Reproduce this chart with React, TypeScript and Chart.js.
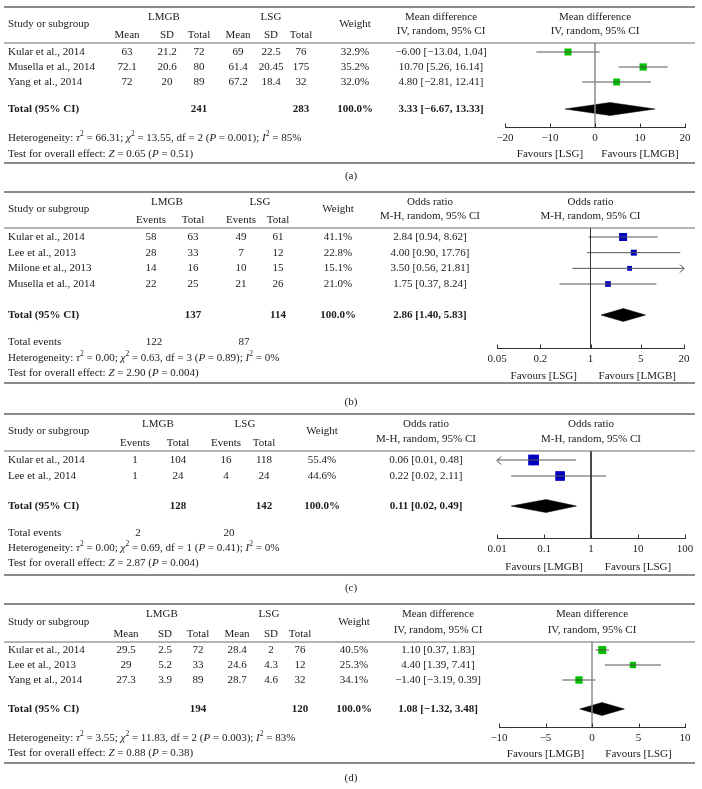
import React, { useEffect, useRef } from "react";
import { Chart, registerables } from "chart.js";
Chart.register(...registerables);

const SERIF = '"Liberation Serif", "Times New Roman", Times, serif';
const FS = 11;
const W = 702;
const H = 789;
const TEXT = "#1a1a1a";
const GREEN = "#00C000";
const BLUE = "#0000C0";

// ---------------- Panel (a): mean difference ----------------
const aStudies = ["Kular et al., 2014", "Musella et al., 2014", "Yang et al., 2014"];
const aLmgbMean = [63, 72.1, 72];
const aLmgbSD = [21.2, 20.6, 20];
const aLmgbTotal = [72, 80, 89];
const aLsgMean = [69, 61.4, 67.2];
const aLsgSD = [22.5, 20.45, 18.4];
const aLsgTotal = [76, 175, 32];
const aWeight = [32.9, 35.2, 32.0];
const aEst = [-6.0, 10.7, 4.8];
const aLo = [-13.04, 5.26, -2.81];
const aHi = [1.04, 16.14, 12.41];
const aPooled = [3.33, -6.67, 13.33];
const aTotals = [241, 283];
const aHet = "Heterogeneity: _τ_^2 = 66.31; _χ_^2 = 13.55, df = 2 (_P_ = 0.001); _I_^2 = 85%";
const aTest = "Test for overall effect: _Z_ = 0.65 (_P_ = 0.51)";
const aTicks = [-20, -10, 0, 10, 20];

// ---------------- Panel (b): odds ratio ----------------
const bStudies = ["Kular et al., 2014", "Lee et al., 2013", "Milone et al., 2013", "Musella et al., 2014"];
const bLmgbEvents = [58, 28, 14, 22];
const bLmgbTotal = [63, 33, 16, 25];
const bLsgEvents = [49, 7, 10, 21];
const bLsgTotal = [61, 12, 15, 26];
const bWeight = [41.1, 22.8, 15.1, 21.0];
const bEst = [2.84, 4.0, 3.5, 1.75];
const bLo = [0.94, 0.9, 0.56, 0.37];
const bHi = [8.62, 17.76, 21.81, 8.24];
const bPooled = [2.86, 1.4, 5.83];
const bTotals = [137, 114];
const bTotalEvents = [122, 87];
const bHet = "Heterogeneity: _τ_^2 = 0.00; _χ_^2 = 0.63, df = 3 (_P_ = 0.89); _I_^2 = 0%";
const bTest = "Test for overall effect: _Z_ = 2.90 (_P_ = 0.004)";
const bTicks = [0.05, 0.2, 1, 5, 20];

// ---------------- Panel (c): odds ratio ----------------
const cStudies = ["Kular et al., 2014", "Lee et al., 2014"];
const cLmgbEvents = [1, 1];
const cLmgbTotal = [104, 24];
const cLsgEvents = [16, 4];
const cLsgTotal = [118, 24];
const cWeight = [55.4, 44.6];
const cEst = [0.06, 0.22];
const cLo = [0.01, 0.02];
const cHi = [0.48, 2.11];
const cPooled = [0.11, 0.02, 0.49];
const cTotals = [128, 142];
const cTotalEvents = [2, 20];
const cHet = "Heterogeneity: _τ_^2 = 0.00; _χ_^2 = 0.69, df = 1 (_P_ = 0.41); _I_^2 = 0%";
const cTest = "Test for overall effect: _Z_ = 2.87 (_P_ = 0.004)";
const cTicks = [0.01, 0.1, 1, 10, 100];

// ---------------- Panel (d): mean difference ----------------
const dStudies = ["Kular et al., 2014", "Lee et al., 2013", "Yang et al., 2014"];
const dLmgbMean = [29.5, 29, 27.3];
const dLmgbSD = [2.5, 5.2, 3.9];
const dLmgbTotal = [72, 33, 89];
const dLsgMean = [28.4, 24.6, 28.7];
const dLsgSD = [2, 4.3, 4.6];
const dLsgTotal = [76, 12, 32];
const dWeight = [40.5, 25.3, 34.1];
const dEst = [1.1, 4.4, -1.4];
const dLo = [0.37, 1.39, -3.19];
const dHi = [1.83, 7.41, 0.39];
const dPooled = [1.08, -1.32, 3.48];
const dTotals = [194, 120];
const dHet = "Heterogeneity: _τ_^2 = 3.55; _χ_^2 = 11.83, df = 2 (_P_ = 0.003); _I_^2 = 83%";
const dTest = "Test for overall effect: _Z_ = 0.88 (_P_ = 0.38)";
const dTicks = [-10, -5, 0, 5, 10];

// ---------------- helpers ----------------
const minus = (s: string) => s.replace(/-/g, "−");
const fmtNum = (v: number) => minus(String(v));
const fmt2 = (v: number) => minus(v.toFixed(2));
const effText = (e: number, l: number, h: number) => `${fmt2(e)} [${fmt2(l)}, ${fmt2(h)}]`;

type Col = { head: string; x: number; vals: number[] };
type Group = { name: string; x: number; cols: Col[]; totalCol: number; total: number; eventsCol?: number; events?: number };

interface PanelCfg {
  label: string; labelY: number;
  ruleTop: number; headerLine: number; ruleBottom: number;
  rowY0: number; rowStep: number; totalY: number; axisY: number;
  plotL: number; plotR: number;
  log: boolean; xMin: number; xMax: number; ticks: number[];
  ref: number; refColor: string; refWidth: number;
  color: string; boxK: number;
  studies: string[]; groups: Group[];
  weight: number[]; weightX: number;
  est: number[]; lo: number[]; hi: number[]; pooled: number[];
  effX: number; effTitle: string[];
  het: string; test: string; hetY: number; testY: number; totEvY?: number;
  favL: string; favR: string; favY: number;
}

const panels: PanelCfg[] = [
  {
    label: "(a)", labelY: 176, ruleTop: 7, headerLine: 43, ruleBottom: 163,
    rowY0: 52, rowStep: 15, totalY: 109, axisY: 127, plotL: 505, plotR: 685,
    log: false, xMin: -20, xMax: 20, ticks: aTicks, ref: 0, refColor: "#8c8c8c", refWidth: 1.5,
    color: GREEN, boxK: 1.22, studies: aStudies,
    groups: [
      { name: "LMGB", x: 164, totalCol: 2, total: aTotals[0], cols: [
        { head: "Mean", x: 127, vals: aLmgbMean }, { head: "SD", x: 167, vals: aLmgbSD }, { head: "Total", x: 199, vals: aLmgbTotal }] },
      { name: "LSG", x: 271, totalCol: 2, total: aTotals[1], cols: [
        { head: "Mean", x: 238, vals: aLsgMean }, { head: "SD", x: 271, vals: aLsgSD }, { head: "Total", x: 301, vals: aLsgTotal }] },
    ],
    weight: aWeight, weightX: 355, est: aEst, lo: aLo, hi: aHi, pooled: aPooled,
    effX: 441, effTitle: ["Mean difference", "IV, random, 95% CI"],
    het: aHet, test: aTest, hetY: 138, testY: 154,
    favL: "Favours [LSG]", favR: "Favours [LMGB]", favY: 154,
  },
  {
    label: "(b)", labelY: 402, ruleTop: 192, headerLine: 228, ruleBottom: 383,
    rowY0: 237, rowStep: 15.67, totalY: 315, axisY: 348, plotL: 497, plotR: 684,
    log: true, xMin: 0.05, xMax: 20, ticks: bTicks, ref: 1, refColor: "#333", refWidth: 1,
    color: BLUE, boxK: 1.25, studies: bStudies,
    groups: [
      { name: "LMGB", x: 167, totalCol: 1, total: bTotals[0], eventsCol: 0, events: bTotalEvents[0], cols: [
        { head: "Events", x: 151, vals: bLmgbEvents }, { head: "Total", x: 193, vals: bLmgbTotal }] },
      { name: "LSG", x: 260, totalCol: 1, total: bTotals[1], eventsCol: 0, events: bTotalEvents[1], cols: [
        { head: "Events", x: 241, vals: bLsgEvents }, { head: "Total", x: 278, vals: bLsgTotal }] },
    ],
    weight: bWeight, weightX: 338, est: bEst, lo: bLo, hi: bHi, pooled: bPooled,
    effX: 430, effTitle: ["Odds ratio", "M-H, random, 95% CI"],
    het: bHet, test: bTest, hetY: 358, testY: 373, totEvY: 342,
    favL: "Favours [LSG]", favR: "Favours [LMGB]", favY: 376,
  },
  {
    label: "(c)", labelY: 588, ruleTop: 414, headerLine: 451, ruleBottom: 575,
    rowY0: 460, rowStep: 16, totalY: 506, axisY: 538, plotL: 497, plotR: 685,
    log: true, xMin: 0.01, xMax: 100, ticks: cTicks, ref: 1, refColor: "#333", refWidth: 1,
    color: BLUE, boxK: 1.45, studies: cStudies,
    groups: [
      { name: "LMGB", x: 158, totalCol: 1, total: cTotals[0], eventsCol: 0, events: cTotalEvents[0], cols: [
        { head: "Events", x: 135, vals: cLmgbEvents }, { head: "Total", x: 178, vals: cLmgbTotal }] },
      { name: "LSG", x: 245, totalCol: 1, total: cTotals[1], eventsCol: 0, events: cTotalEvents[1], cols: [
        { head: "Events", x: 226, vals: cLsgEvents }, { head: "Total", x: 264, vals: cLsgTotal }] },
    ],
    weight: cWeight, weightX: 322, est: cEst, lo: cLo, hi: cHi, pooled: cPooled,
    effX: 426, effTitle: ["Odds ratio", "M-H, random, 95% CI"],
    het: cHet, test: cTest, hetY: 548, testY: 563, totEvY: 533,
    favL: "Favours [LMGB]", favR: "Favours [LSG]", favY: 567,
  },
  {
    label: "(d)", labelY: 778, ruleTop: 604, headerLine: 642, ruleBottom: 763,
    rowY0: 650, rowStep: 15, totalY: 709, axisY: 727, plotL: 499, plotR: 685,
    log: false, xMin: -10, xMax: 10, ticks: dTicks, ref: 0, refColor: "#8c8c8c", refWidth: 1.5,
    color: GREEN, boxK: 1.26, studies: dStudies,
    groups: [
      { name: "LMGB", x: 162, totalCol: 2, total: dTotals[0], cols: [
        { head: "Mean", x: 126, vals: dLmgbMean }, { head: "SD", x: 165, vals: dLmgbSD }, { head: "Total", x: 198, vals: dLmgbTotal }] },
      { name: "LSG", x: 269, totalCol: 2, total: dTotals[1], cols: [
        { head: "Mean", x: 237, vals: dLsgMean }, { head: "SD", x: 271, vals: dLsgSD }, { head: "Total", x: 300, vals: dLsgTotal }] },
    ],
    weight: dWeight, weightX: 354, est: dEst, lo: dLo, hi: dHi, pooled: dPooled,
    effX: 438, effTitle: ["Mean difference", "IV, random, 95% CI"],
    het: dHet, test: dTest, hetY: 738, testY: 753,
    favL: "Favours [LMGB]", favR: "Favours [LSG]", favY: 754,
  },
];

type Seg = { t: string; it: boolean; sup: boolean };
function segs(s: string): Seg[] {
  const out: Seg[] = [];
  let it = false;
  let buf = "";
  for (let i = 0; i < s.length; i++) {
    const c = s[i];
    if (c === "_") { if (buf) out.push({ t: buf, it, sup: false }); buf = ""; it = !it; continue; }
    if (c === "^") { if (buf) out.push({ t: buf, it, sup: false }); buf = ""; out.push({ t: s[i + 1], it: false, sup: true }); i++; continue; }
    buf += c;
  }
  if (buf) out.push({ t: buf, it, sup: false });
  return out;
}

function drawRich(ctx: CanvasRenderingContext2D, s: string, x: number, y: number, align: "left" | "center", bold = false) {
  const parts = segs(s);
  const fontFor = (p: Seg) => `${p.it ? "italic " : ""}${bold ? "bold " : ""}${p.sup ? 7.5 : FS}px ${SERIF}`;
  let w = 0;
  for (const p of parts) { ctx.font = fontFor(p); w += ctx.measureText(p.t).width; }
  let cx = align === "center" ? x - w / 2 : x;
  ctx.textAlign = "left";
  ctx.textBaseline = "middle";
  ctx.fillStyle = TEXT;
  for (const p of parts) {
    ctx.font = fontFor(p);
    ctx.fillText(p.t, cx, p.sup ? y - 4 : y);
    cx += ctx.measureText(p.t).width;
  }
}

function drawPanel(chart: any, p: PanelCfg) {
  const ctx: CanvasRenderingContext2D = chart.ctx;
  const xs = chart.scales.x;
  const ys = chart.scales.y;
  ctx.save();
  // rules
  ctx.fillStyle = "#8a8a8a";
  ctx.fillRect(4, p.ruleTop - 1, 691, 2);
  ctx.fillRect(4, p.ruleBottom - 1, 691, 2);
  ctx.fillStyle = "#6a6a6a";
  ctx.fillRect(4, p.headerLine - 0.5, 691, 1);

  // header
  const midHead = (p.ruleTop + p.headerLine) / 2 - 1;
  drawRich(ctx, "Study or subgroup", 8, midHead, "left");
  for (const g of p.groups) {
    drawRich(ctx, g.name, g.x, p.ruleTop + 10, "center");
    for (const c of g.cols) drawRich(ctx, c.head, c.x, p.headerLine - 8, "center");
  }
  drawRich(ctx, "Weight", p.weightX, midHead, "center");
  const plotMid = (xs.left + xs.right) / 2;
  drawRich(ctx, p.effTitle[0], p.effX, p.ruleTop + 10, "center");
  drawRich(ctx, p.effTitle[1], p.effX, p.headerLine - 12, "center");
  drawRich(ctx, p.effTitle[0], plotMid, p.ruleTop + 10, "center");
  drawRich(ctx, p.effTitle[1], plotMid, p.headerLine - 12, "center");

  // study rows
  p.studies.forEach((s, i) => {
    const y = ys.getPixelForValue(i);
    drawRich(ctx, s, 8, y, "left");
    for (const g of p.groups) for (const c of g.cols) drawRich(ctx, fmtNum(c.vals[i]), c.x, y, "center");
    drawRich(ctx, p.weight[i].toFixed(1) + "%", p.weightX, y, "center");
    drawRich(ctx, effText(p.est[i], p.lo[i], p.hi[i]), p.effX, y, "center");
  });

  // total row
  const ty = ys.getPixelForValue((p.totalY - p.rowY0) / p.rowStep);
  drawRich(ctx, "Total (95% CI)", 8, ty, "left", true);
  for (const g of p.groups) drawRich(ctx, fmtNum(g.total), g.cols[g.totalCol].x, ty, "center", true);
  drawRich(ctx, "100.0%", p.weightX, ty, "center", true);
  drawRich(ctx, effText(p.pooled[0], p.pooled[1], p.pooled[2]), p.effX, ty, "center", true);

  if (p.totEvY !== undefined) {
    drawRich(ctx, "Total events", 8, p.totEvY, "left");
    for (const g of p.groups) if (g.eventsCol !== undefined && g.events !== undefined)
      drawRich(ctx, fmtNum(g.events), g.cols[g.eventsCol].x + 3, p.totEvY, "center");
  }
  drawRich(ctx, p.het, 8, p.hetY, "left");
  drawRich(ctx, p.test, 8, p.testY, "left");

  // inward ticks on the axis
  const ay = Math.floor(chart.chartArea.bottom) + 0.5;
  ctx.strokeStyle = "#333";
  ctx.lineWidth = 1;
  for (const t of xs.ticks) {
    const px = Math.round(xs.getPixelForValue(t.value)) + 0.5;
    ctx.beginPath(); ctx.moveTo(px, ay); ctx.lineTo(px, ay - 4); ctx.stroke();
  }
  // favours
  const rx = xs.getPixelForValue(p.ref);
  drawRich(ctx, p.favL, (xs.left + rx) / 2, p.favY, "center");
  drawRich(ctx, p.favR, (rx + xs.right) / 2, p.favY, "center");

  // arrows for clipped intervals
  ctx.strokeStyle = "#444";
  p.studies.forEach((_, i) => {
    const y = Math.round(ys.getPixelForValue(i)) + 0.5;
    if (p.hi[i] > p.xMax) {
      const x = xs.right;
      ctx.beginPath(); ctx.moveTo(x - 4, y - 4); ctx.lineTo(x, y); ctx.lineTo(x - 4, y + 4); ctx.stroke();
    }
    if (p.lo[i] <= p.xMin) {
      const x = xs.left;
      ctx.beginPath(); ctx.moveTo(x + 4, y - 4); ctx.lineTo(x, y); ctx.lineTo(x + 4, y + 4); ctx.stroke();
    }
  });

  drawRich(ctx, p.label, 351, p.labelY, "center");
  ctx.restore();
}

const tickFmt = (v: number) => (v < 0 ? "−" + Math.abs(v) : String(v));

function buildConfig(p: PanelCfg): any {
  const yMin = (p.headerLine - p.rowY0) / p.rowStep;
  const yMax = (p.axisY - p.rowY0) / p.rowStep;
  const tRow = (p.totalY - p.rowY0) / p.rowStep;
  const dh = 6.5 / p.rowStep;
  const datasets: any[] = [];
  datasets.push({
    type: "line", data: [{ x: p.ref, y: yMin }, { x: p.ref, y: yMax }],
    borderColor: p.refColor, borderWidth: p.refWidth, pointRadius: 0, fill: false,
  });
  p.studies.forEach((_, i) => {
    datasets.push({
      type: "line",
      data: [{ x: Math.max(p.lo[i], p.xMin), y: i }, { x: Math.min(p.hi[i], p.xMax), y: i }],
      borderColor: "#555", borderWidth: 1, pointRadius: 0, fill: false,
    });
  });
  datasets.push({
    type: "scatter",
    data: p.est.map((e, i) => ({ x: e, y: i })),
    pointStyle: "rect",
    pointRadius: p.weight.map((w) => (p.boxK * Math.sqrt(w)) / Math.SQRT2),
    backgroundColor: p.color, borderColor: p.color, borderWidth: 0,
  });
  const [pe, pl, ph] = p.pooled;
  datasets.push({
    type: "line",
    data: [{ x: pl, y: tRow }, { x: pe, y: tRow - dh }, { x: ph, y: tRow }, { x: pe, y: tRow + dh }, { x: pl, y: tRow }],
    borderColor: "#000", backgroundColor: "#000", borderWidth: 0.5, pointRadius: 0, fill: "shape", tension: 0,
  });

  const axisH = FS * 1.2 + 10;
  return {
    type: "scatter",
    data: { datasets },
    options: {
      responsive: false, animation: false, devicePixelRatio: 1, events: [],
      layout: { padding: { left: p.plotL, right: W - p.plotR, top: p.headerLine, bottom: H - p.axisY - axisH } },
      plugins: { legend: { display: false }, tooltip: { enabled: false }, title: { display: false } },
      scales: {
        x: {
          type: p.log ? "logarithmic" : "linear", position: "bottom", min: p.xMin, max: p.xMax,
          grid: { display: false, drawTicks: false },
          border: { display: true, color: "#333", width: 1 },
          ticks: {
            autoSkip: false, maxRotation: 0, minRotation: 0, padding: 5, color: TEXT,
            font: { family: SERIF, size: FS }, callback: (v: any) => tickFmt(Number(v)),
          },
          afterBuildTicks: (sc: any) => { sc.ticks = p.ticks.map((v) => ({ value: v })); },
        },
        y: { type: "linear", display: false, reverse: true, min: yMin, max: yMax },
      },
    },
    plugins: [{ id: "forest", afterDraw: (chart: any) => drawPanel(chart, p) }],
  };
}

function PanelChart({ cfg }: { cfg: PanelCfg }) {
  const ref = useRef<HTMLCanvasElement>(null);
  useEffect(() => {
    if (!ref.current) return;
    const chart = new Chart(ref.current, buildConfig(cfg));
    return () => chart.destroy();
  }, [cfg]);
  return (
    <canvas ref={ref} width={W} height={H}
      style={{ position: "absolute", left: 0, top: 0, width: W, height: H }} />
  );
}

export default function App() {
  return (
    <div style={{ position: "absolute", left: 0, top: 0, width: W, height: H, background: "#fff", overflow: "hidden" }}>
      {panels.map((p) => <PanelChart key={p.label} cfg={p} />)}
    </div>
  );
}
